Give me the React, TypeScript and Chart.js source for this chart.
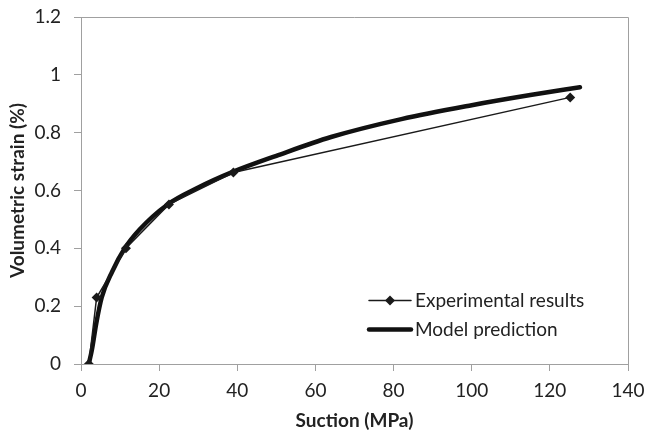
import React, { useEffect, useRef } from "react";
import { Chart, registerables } from "chart.js";

Chart.register(...registerables);

const expSuction = [2, 4, 11.5, 22.5, 39, 125.2];
const expStrain = [0, 0.23, 0.4, 0.552, 0.662, 0.922];

const modelSuction = [2, 2.8, 3.9, 5.3, 8, 11.2, 15, 22, 30, 39, 50, 64, 82, 100, 115, 127.7];
const modelStrain = [0, 0.05, 0.14, 0.23, 0.32, 0.4, 0.465, 0.55, 0.61, 0.665, 0.72, 0.785, 0.847, 0.895, 0.93, 0.957];

const xTickLabels = ["0", "20", "40", "60", "80", "100", "120", "140"];
const yTickLabels = ["0", "0.2", "0.4", "0.6", "0.8", "1", "1.2"];
const seriesLabels = ["Experimental results", "Model prediction"];
const xTitle = "Suction (MPa)";
const yTitle = "Volumetric strain (%)";

const FONT = "Lato, 'Open Sans', sans-serif";
const TEXT = "#222222";
const AXIS = "#a0a0a0";

const frameAndLegend = {
  id: "frameAndLegend",
  beforeDatasetsDraw(chart: any) {
    const { ctx, chartArea } = chart;
    ctx.save();
    ctx.strokeStyle = AXIS;
    ctx.lineWidth = 1;
    ctx.beginPath();
    ctx.moveTo(chartArea.left, Math.round(chartArea.top) + 0.5);
    ctx.lineTo(Math.round(chartArea.right) + 0.5, Math.round(chartArea.top) + 0.5);
    ctx.lineTo(Math.round(chartArea.right) + 0.5, chartArea.bottom);
    ctx.stroke();
    ctx.restore();
  },
  afterDraw(chart: any) {
    const { ctx } = chart;
    const rows = [300.5, 329.5];
    const x0 = 369;
    const x1 = 411;
    ctx.save();
    chart.data.datasets.forEach((ds: any, i: number) => {
      const y = rows[i];
      ctx.strokeStyle = ds.borderColor;
      ctx.lineWidth = ds.borderWidth;
      ctx.lineCap = "round";
      ctx.beginPath();
      ctx.moveTo(x0, y);
      ctx.lineTo(x1, y);
      ctx.stroke();
      if (ds.pointRadius > 0) {
        const cx = (x0 + x1) / 2;
        const r = ds.pointRadius;
        ctx.fillStyle = ds.pointBackgroundColor;
        ctx.beginPath();
        ctx.moveTo(cx, y - r);
        ctx.lineTo(cx + r, y);
        ctx.lineTo(cx, y + r);
        ctx.lineTo(cx - r, y);
        ctx.closePath();
        ctx.fill();
      }
      ctx.fillStyle = TEXT;
      ctx.font = `19px ${FONT}`;
      ctx.textAlign = "left";
      ctx.textBaseline = "middle";
      ctx.fillText(ds.label, 415, y);
    });
    ctx.restore();
  },
};

export default function App() {
  const ref = useRef<HTMLCanvasElement | null>(null);

  useEffect(() => {
    if (!ref.current) return;
    const chart = new Chart(ref.current, {
      type: "line",
      data: {
        datasets: [
          {
            label: seriesLabels[0],
            data: expSuction.map((x, i) => ({ x, y: expStrain[i] })),
            borderColor: "#1a1a1a",
            backgroundColor: "#1a1a1a",
            pointBackgroundColor: "#1a1a1a",
            pointBorderColor: "#1a1a1a",
            borderWidth: 1.5,
            pointStyle: "rectRot",
            pointRadius: 5,
            pointBorderWidth: 0,
            tension: 0,
          },
          {
            label: seriesLabels[1],
            data: modelSuction.map((x, i) => ({ x, y: modelStrain[i] })),
            borderColor: "#111111",
            backgroundColor: "#111111",
            pointBackgroundColor: "#111111",
            borderWidth: 4.5,
            pointRadius: 0,
            cubicInterpolationMode: "monotone",
            borderCapStyle: "round",
          },
        ],
      },
      options: {
        animation: false,
        responsive: false,
        layout: { padding: { left: 0, top: 17, right: 18, bottom: 0 } },
        plugins: {
          legend: { display: false },
          tooltip: { enabled: false },
        },
        scales: {
          x: {
            type: "linear",
            min: 0,
            max: 140,
            afterFit: (s: any) => {
              s.height = 71;
              s.paddingLeft = 0;
              s.paddingRight = 0;
            },
            ticks: {
              stepSize: 20,
              padding: 8.5,
              color: TEXT,
              font: { family: FONT, size: 19 },
              maxRotation: 0,
              callback: (_v: any, i: number) => xTickLabels[i],
            },
            grid: {
              display: true,
              drawOnChartArea: false,
              drawTicks: true,
              tickLength: 7,
              color: AXIS,
            },
            border: { display: true, color: AXIS, width: 1 },
            title: {
              display: true,
              text: xTitle,
              color: TEXT,
              font: { family: FONT, size: 19, weight: "bold" },
              padding: { top: 0, bottom: 2.5 },
            },
          },
          y: {
            type: "linear",
            min: 0,
            max: 1.2,
            afterFit: (s: any) => {
              s.width = 81;
              s.paddingTop = 0;
              s.paddingBottom = 0;
            },
            ticks: {
              stepSize: 0.2,
              padding: 13,
              color: TEXT,
              font: { family: FONT, size: 19 },
              callback: (_v: any, i: number) => yTickLabels[i],
            },
            grid: {
              display: true,
              drawOnChartArea: false,
              drawTicks: true,
              tickLength: 7,
              color: AXIS,
            },
            border: { display: true, color: AXIS, width: 1 },
            title: {
              display: true,
              text: yTitle,
              color: TEXT,
              font: { family: FONT, size: 19, weight: "bold" },
              padding: { top: 6, bottom: 0 },
            },
          },
        },
      },
      plugins: [frameAndLegend],
    } as any);
    return () => chart.destroy();
  }, []);

  return (
    <div style={{ position: "absolute", left: 0, top: 0, width: 646, height: 435, background: "#fff" }}>
      <canvas ref={ref} width={646} height={435} style={{ display: "block" }} />
    </div>
  );
}
